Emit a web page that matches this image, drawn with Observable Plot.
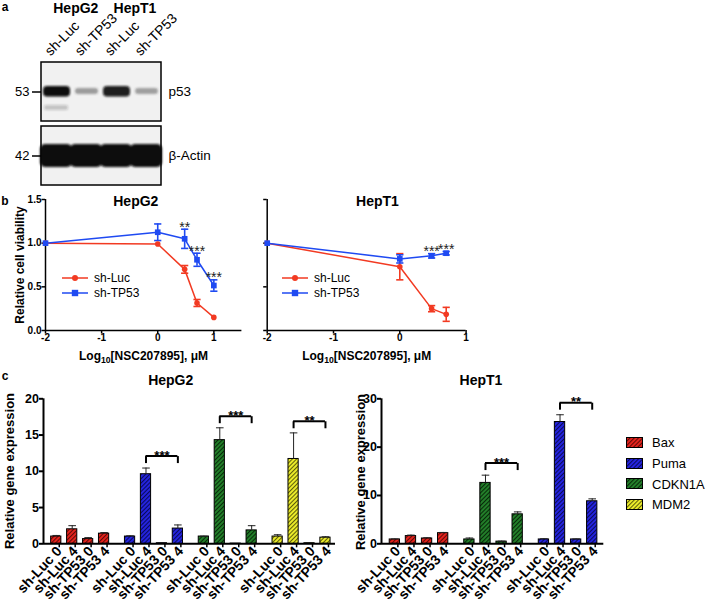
<!DOCTYPE html>
<html><head><meta charset="utf-8">
<script src="https://cdn.jsdelivr.net/npm/d3@7"></script>
<script src="https://cdn.jsdelivr.net/npm/@observablehq/plot@0.6"></script>
<style>
body{margin:0;background:#fff;}
#fig{position:relative;width:708px;height:606px;overflow:hidden;background:#fff;font-family:"Liberation Sans",Arial,Helvetica,sans-serif;color:#000;}
.t{position:absolute;white-space:nowrap;line-height:1;}
</style></head><body><div id="fig"></div>
<script>
// ---------------- Panel a : western blot ----------------
const blotLanes = ["HepG2 sh-Luc", "HepG2 sh-TP53", "HepT1 sh-Luc", "HepT1 sh-TP53"];
const blotCellLines = ["HepG2", "HepT1"];
const blotRows = ["p53", "β-Actin"];
const blotKDa = [53, 42];
const p53Band = [1.0, 0.45, 0.93, 0.42];
const p53LowerBand = [0.22, 0, 0, 0];
const actinBand = [1, 1, 1, 1];

// ---------------- Panel b : viability ----------------
const seriesNames = ["sh-Luc", "sh-TP53"];
const doseTicks = [-2, -1, 0, 1];
const viabTicks = [0, 0.5, 1, 1.5];
const hepg2Dose = [-2, 0, 0.48, 0.7, 1];
const hepg2LucViab = [1.0, 0.99, 0.70, 0.315, 0.15];
const hepg2LucErr = [0, 0, 0.044, 0.04, 0];
const hepg2TP53Viab = [1.0, 1.125, 1.05, 0.81, 0.515];
const hepg2TP53Err = [0, 0.095, 0.11, 0.075, 0.065];
const hepg2Sig = ["", "", "**", "***", "***"];
const hept1Dose = [-2, 0, 0.48, 0.7];
const hept1LucViab = [1.0, 0.73, 0.25, 0.185];
const hept1LucErr = [0, 0.15, 0.035, 0.08];
const hept1TP53Viab = [1.0, 0.82, 0.855, 0.885];
const hept1TP53Err = [0, 0.047, 0.025, 0.02];
const hept1Sig = ["", "", "***", "***"];

// ---------------- Panel c : gene expression ----------------
const conditions = ["sh-Luc 0", "sh-Luc 4", "sh-TP53 0", "sh-TP53 4"];
const legendGenes = ["Bax", "Puma", "CDKN1A", "MDM2"];
const hepg2Genes = ["Bax", "Puma", "CDKN1A", "MDM2"];
const hepg2Bax = [1.0, 2.0, 0.65, 1.4];
const hepg2BaxErr = [0.15, 0.5, 0.2, 0.15];
const hepg2Puma = [1.0, 9.6, 0.08, 2.1];
const hepg2PumaErr = [0.1, 0.85, 0.02, 0.5];
const hepg2Cdkn1a = [1.0, 14.3, 0.03, 1.85];
const hepg2Cdkn1aErr = [0.05, 1.7, 0.01, 0.65];
const hepg2Mdm2 = [1.0, 11.7, 0.08, 0.85];
const hepg2Mdm2Err = [0.25, 3.6, 0.02, 0.12];
const hepg2BracketGenes = ["Puma", "CDKN1A", "MDM2"];
const hepg2BracketY = [12.1, 17.6, 16.9];
const hepg2BracketLabel = ["***", "***", "**"];
const hepg2YTicks = [0, 5, 10, 15, 20];

const hept1Genes = ["Bax", "CDKN1A", "Puma"];
const hept1Bax = [0.9, 1.6, 1.1, 2.2];
const hept1BaxErr = [0.1, 0.2, 0.15, 0.15];
const hept1Cdkn1a = [0.9, 12.6, 0.45, 6.1];
const hept1Cdkn1aErr = [0.3, 1.6, 0.1, 0.5];
const hept1Puma = [0.9, 25.2, 0.9, 8.8];
const hept1PumaErr = [0.15, 1.5, 0.1, 0.5];
const hept1BracketGenes = ["CDKN1A", "Puma"];
const hept1BracketY = [16.7, 29.2];
const hept1BracketLabel = ["***", "**"];
const hept1YTicks = [0, 10, 20, 30];

// ---------------- styling ----------------
const RED = "#f23a22", BLUE = "#1f4af2";
const geneBase = {Bax: "#e6231d", Puma: "#2424e0", CDKN1A: "#23802a", MDM2: "#eeee2a"};
const geneLine = {Bax: "#5e0b08", Puma: "#0a0a5a", CDKN1A: "#082a0a", MDM2: "#5e5e0c"};
const FONT = '"Liberation Sans", Arial, Helvetica, sans-serif';
const fig = document.getElementById("fig");

// shared defs (patterns + blur)
const NS = "http://www.w3.org/2000/svg";
const defsSvg = document.createElementNS(NS, "svg");
defsSvg.setAttribute("width", 0); defsSvg.setAttribute("height", 0);
defsSvg.style.position = "absolute";
let defsHtml = `<defs><filter id="blotblur" x="-30%" y="-80%" width="160%" height="260%"><feGaussianBlur stdDeviation="1.1"/></filter>`;
for (const g of legendGenes) {
  defsHtml += `<pattern id="hatch-${g}" width="3" height="3" patternUnits="userSpaceOnUse" patternTransform="rotate(45)"><rect width="3" height="3" fill="${geneBase[g]}"/><line x1="0.5" y1="0" x2="0.5" y2="3" stroke="${geneLine[g]}" stroke-width="1.1"/></pattern>`;
}
defsHtml += `</defs>`;
defsSvg.innerHTML = defsHtml;
fig.appendChild(defsSvg);

function place(el, left, top) {
  el.style.position = "absolute"; el.style.left = left + "px"; el.style.top = top + "px";
  fig.appendChild(el);
}
function addText(html, x, y, {size = 12, bold = false, rot = false, anchor = "middle"} = {}) {
  const d = document.createElement("div");
  d.className = "t";
  d.innerHTML = html;
  d.style.fontSize = size + "px";
  d.style.fontWeight = bold ? "bold" : "normal";
  d.style.left = x + "px"; d.style.top = y + "px";
  const tx = anchor === "start" ? "0" : "-50%";
  d.style.transform = rot ? "translate(-50%,-50%) rotate(-90deg)" : `translate(${tx},-50%)`;
  fig.appendChild(d);
  return d;
}
const baseStyle = {fontFamily: FONT, fontSize: "10px", background: "transparent", overflow: "visible", color: "black"};

// custom symbols
const capSym = w => ({draw(ctx) { ctx.moveTo(-w, 0); ctx.lineTo(w, 0); }});
const downTickSym = {draw(ctx) { ctx.moveTo(0, 0); ctx.lineTo(0, 7); }};

// ================= Panel a =================
const bandData = (arr, row) => blotLanes.map((lane, i) => ({lane, row, v: arr[i]}));
const p53Data = bandData(p53Band, "p53");
const lowerData = bandData(p53LowerBand, "p53").filter(d => d.v > 0);
const actinData = bandData(actinBand, "β-Actin");
const plotA = Plot.plot({
  width: 230, height: 190, marginLeft: 41, marginRight: 69, marginTop: 62, marginBottom: 5,
  style: baseStyle,
  x: {type: "band", domain: blotLanes, paddingInner: 0, paddingOuter: 0, axis: null},
  y: {type: "band", domain: blotRows, paddingInner: 0.08, paddingOuter: 0},
  opacity: {type: "identity"},
  marks: [
    Plot.cell(blotRows, {y: d => d, fill: "#f1f1f1"}),
    Plot.cell(p53Data.filter(d => d.v > 0.6), {x: "lane", y: "row", fill: "#0a0a0a", fillOpacity: "v", insetTop: 24, insetBottom: 24.5, insetLeft: 2, insetRight: 1, rx: 4}),
    Plot.cell(p53Data.filter(d => d.v <= 0.6), {x: "lane", y: "row", fill: "#333", fillOpacity: "v", insetTop: 26, insetBottom: 27, insetLeft: 4, insetRight: 3, rx: 3}),
    Plot.cell(lowerData, {x: "lane", y: "row", fill: "#222", fillOpacity: "v", insetTop: 43, insetBottom: 11, insetLeft: 3, insetRight: 3, rx: 2}),
    Plot.cell(actinData, {x: "lane", y: "row", fill: "#0a0a0a", fillOpacity: "v", insetTop: 18, insetBottom: 18, insetLeft: -1, insetRight: -1, rx: 5}),
    Plot.cell(blotRows, {y: d => d, fill: "none", stroke: "black", strokeWidth: 1.5}),
    Plot.axisY({anchor: "left", label: null, tickSize: 9, tickPadding: 3, strokeWidth: 1.5, fontSize: 13,
      tickFormat: r => String(blotKDa[blotRows.indexOf(r)])}),
    Plot.axisY({anchor: "right", label: null, tickSize: 0, tickPadding: 7, fontSize: 13.5})
  ]
});
place(plotA, 0, 0);
const bandGroups = plotA.querySelectorAll('g[aria-label="cell"]');
bandGroups.forEach((g, i) => { if (i >= 1 && i <= 4) g.setAttribute("filter", "url(#blotblur)"); });
// rotated lane labels, positioned from the plot's own x scale
const laneScale = plotA.scale("x");
blotLanes.forEach(lane => {
  const cx = laneScale.apply(lane) + laneScale.bandwidth / 2;
  const d = document.createElement("div");
  d.className = "t";
  d.textContent = lane.split(" ")[1];
  d.style.fontSize = "14px";
  d.style.left = (cx - 9) + "px";
  d.style.top = "53px";
  d.style.transformOrigin = "0 50%";
  d.style.transform = "translate(0,-50%) rotate(-45deg)";
  fig.appendChild(d);
});
addText(blotCellLines[0], 75.8, 8, {size: 14, bold: true});
addText(blotCellLines[1], 135, 8, {size: 14, bold: true});
addText("a", 5, 7, {size: 12, bold: true});

// ================= Panel b =================
function viabPlot({dose, luc, lucErr, tp53, tp53Err, sig, width, marginLeft, marginRight, xDomain, yLabels}) {
  const rows = [];
  dose.forEach((d, i) => rows.push({series: seriesNames[0], x: d, y: luc[i], e: lucErr[i], s: ""}));
  dose.forEach((d, i) => rows.push({series: seriesNames[1], x: d, y: tp53[i], e: tp53Err[i], s: sig[i]}));
  const errRows = rows.filter(d => d.e > 0);
  return Plot.plot({
    width, height: 175, marginLeft, marginRight, marginTop: 9, marginBottom: 35,
    style: baseStyle,
    x: {domain: xDomain},
    y: {domain: [0, 1.5]},
    color: {domain: seriesNames, range: [RED, BLUE]},
    marks: [
      Plot.axisX({ticks: doseTicks, tickFormat: d => String(d), tickSize: 3.5, tickPadding: 0, strokeWidth: 1.5, fontSize: 10, fontWeight: "bold", label: null}),
      Plot.axisY({ticks: viabTicks, tickSize: 3.5, tickPadding: 0.5, strokeWidth: 1.5, fontSize: 10, fontWeight: "bold", label: null,
        tickFormat: yLabels ? d3.format(".1f") : () => ""}),
      Plot.ruleY([0], {strokeWidth: 1.5}),
      Plot.ruleX([xDomain[0]], {strokeWidth: 1.5}),
      Plot.line(rows, {x: "x", y: "y", z: "series", stroke: "series", strokeWidth: 1.5}),
      Plot.ruleX(errRows, {x: "x", y1: d => d.y - d.e, y2: d => d.y + d.e, stroke: "series", strokeWidth: 1.6}),
      Plot.dot(errRows, {x: "x", y: d => d.y + d.e, symbol: capSym(3.6), stroke: "series", fill: "none", strokeWidth: 1.6}),
      Plot.dot(errRows, {x: "x", y: d => d.y - d.e, symbol: capSym(3.6), stroke: "series", fill: "none", strokeWidth: 1.6}),
      Plot.dot(rows.filter(d => d.series === seriesNames[0]), {x: "x", y: "y", symbol: "circle", r: 2.8, fill: "series"}),
      Plot.dot(rows.filter(d => d.series === seriesNames[1]), {x: "x", y: "y", symbol: "square", r: 3.2, fill: "series"}),
      Plot.text(rows.filter(d => d.s), {x: "x", y: d => d.y + d.e, text: "s", lineAnchor: "bottom", dy: 2.5, fontSize: 14, fill: "#222"})
    ]
  });
}
const plotB1 = viabPlot({dose: hepg2Dose, luc: hepg2LucViab, lucErr: hepg2LucErr, tp53: hepg2TP53Viab, tp53Err: hepg2TP53Err, sig: hepg2Sig,
  width: 245, marginLeft: 45, marginRight: 3.6, xDomain: [-2, 1.5], yLabels: true});
place(plotB1, 0, 190);
const plotB2 = viabPlot({dose: hept1Dose, luc: hept1LucViab, lucErr: hept1LucErr, tp53: hept1TP53Viab, tp53Err: hept1TP53Err, sig: hept1Sig,
  width: 225, marginLeft: 21.7, marginRight: 4.4, xDomain: [-2, 1], yLabels: false});
place(plotB2, 245, 190);

addText("b", 5, 200.5, {size: 12, bold: true});
addText("HepG2", 135.8, 200.7, {size: 14, bold: true});
addText("HepT1", 377.5, 200.7, {size: 14, bold: true});
addText("Relative cell viability", 19.5, 264.5, {size: 12, bold: true, rot: true});
const xlab = 'Log<sub style="font-size:0.72em;vertical-align:-0.3em;line-height:0">10</sub>[NSC207895], μM';
addText(xlab, 143.5, 355.7, {size: 12, bold: true});
addText(xlab, 366.7, 355.7, {size: 12, bold: true});

function legendB(x0, ys) {
  seriesNames.forEach((name, i) => {
    const col = i === 0 ? RED : BLUE;
    const s = document.createElementNS(NS, "svg");
    s.setAttribute("width", 28); s.setAttribute("height", 10);
    const marker = i === 0
      ? `<circle cx="13" cy="5" r="3" fill="${col}"/>`
      : `<rect x="9.8" y="1.8" width="6.4" height="6.4" fill="${col}"/>`;
    s.innerHTML = `<line x1="0" y1="5" x2="26" y2="5" stroke="${col}" stroke-width="1.5"/>` + marker;
    place(s, x0, ys[i] - 5);
    addText(name, x0 + 32, ys[i], {size: 12, anchor: "start"});
  });
}
legendB(62, [278.3, 292.7]);
legendB(282, [278.3, 292.7]);

// ================= Panel c =================
const GROUP_STEP = 4.63, BAR_HALF = 0.32;
function barPlot({genes, vals, errs, brGenes, brY, brLabel, yMax, yTicks, width, marginLeft, marginRight, xDomain}) {
  const bars = [];
  genes.forEach((g, gi) => conditions.forEach((c, ci) => bars.push({
    gene: g, cond: c, pos: gi * GROUP_STEP + ci, v: vals[gi][ci], e: errs[gi][ci], fill: `url(#hatch-${g})`
  })));
  const tickPos = bars.map(d => d.pos);
  const labelByPos = new Map(bars.map(d => [d.pos, d.cond]));
  const br = brGenes.map((g, i) => {
    const gi = genes.indexOf(g);
    return {x1: gi * GROUP_STEP + 1, x2: gi * GROUP_STEP + 3, y: brY[i], label: brLabel[i]};
  });
  const brEnds = br.flatMap(b => [{x: b.x1, y: b.y}, {x: b.x2, y: b.y}]);
  return Plot.plot({
    width, height: 216, marginLeft, marginRight, marginTop: 8.3, marginBottom: 62.7,
    style: baseStyle,
    x: {domain: xDomain},
    y: {domain: [0, yMax]},
    color: {type: "identity"},
    marks: [
      Plot.rectY(bars, {x1: d => d.pos - BAR_HALF, x2: d => d.pos + BAR_HALF, y1: 0, y2: "v", fill: "fill", stroke: "black", strokeWidth: 1}),
      Plot.ruleX(bars, {x: "pos", y1: "v", y2: d => d.v + d.e, stroke: "#222", strokeWidth: 1}),
      Plot.dot(bars, {x: "pos", y: d => d.v + d.e, symbol: capSym(3.8), stroke: "#222", fill: "none", strokeWidth: 1}),
      Plot.ruleY(br, {y: "y", x1: "x1", x2: "x2", strokeWidth: 2}),
      Plot.dot(brEnds, {x: "x", y: "y", symbol: downTickSym, stroke: "black", fill: "none", strokeWidth: 2}),
      Plot.text(br, {x: d => (d.x1 + d.x2) / 2, y: "y", text: "label", lineAnchor: "bottom", dy: 3.5, fontSize: 13, fontWeight: "bold"}),
      Plot.axisX({ticks: tickPos, tickFormat: p => labelByPos.get(p), tickRotate: -47, tickSize: 4, tickPadding: 1, strokeWidth: 1.5,
        fontSize: 14, fontWeight: "bold", label: null, dx: 3}),
      Plot.axisY({ticks: yTicks, tickSize: 4, tickPadding: 0.5, strokeWidth: 2, fontSize: 12.5, fontWeight: "bold", label: null}),
      Plot.ruleY([0], {strokeWidth: 2}),
      Plot.ruleX([xDomain[0]], {strokeWidth: 2})
    ]
  });
}
const plotC1 = barPlot({genes: hepg2Genes,
  vals: [hepg2Bax, hepg2Puma, hepg2Cdkn1a, hepg2Mdm2], errs: [hepg2BaxErr, hepg2PumaErr, hepg2Cdkn1aErr, hepg2Mdm2Err],
  brGenes: hepg2BracketGenes, brY: hepg2BracketY, brLabel: hepg2BracketLabel, yMax: 20, yTicks: hepg2YTicks,
  width: 345, marginLeft: 43, marginRight: 10, xDomain: [-0.8, 17.52]});
place(plotC1, 0, 390);
const plotC2 = barPlot({genes: hept1Genes,
  vals: [hept1Bax, hept1Cdkn1a, hept1Puma], errs: [hept1BaxErr, hept1Cdkn1aErr, hept1PumaErr],
  brGenes: hept1BracketGenes, brY: hept1BracketY, brLabel: hept1BracketLabel, yMax: 30, yTicks: hept1YTicks,
  width: 270, marginLeft: 36, marginRight: 11.7, xDomain: [-0.83, 12.98]});
place(plotC2, 345, 390);

addText("c", 5, 376, {size: 12, bold: true});
addText("HepG2", 170.7, 379.5, {size: 14, bold: true});
addText("HepT1", 481, 379.5, {size: 14, bold: true});
addText("Relative gene expression", 8.5, 471, {size: 13, bold: true, rot: true});
addText("Relative gene expression", 359.5, 472, {size: 13, bold: true, rot: true});

legendGenes.forEach((g, i) => {
  const y = 442.3 + i * 20.7;
  const s = document.createElementNS(NS, "svg");
  s.setAttribute("width", 18); s.setAttribute("height", 12);
  s.innerHTML = `<rect x="0.5" y="0.5" width="16" height="10" fill="url(#hatch-${g})" stroke="black" stroke-width="1"/>`;
  place(s, 625.5, y - 5.5);
  addText(g, 652, y, {size: 13, anchor: "start"});
});
</script></body></html>
